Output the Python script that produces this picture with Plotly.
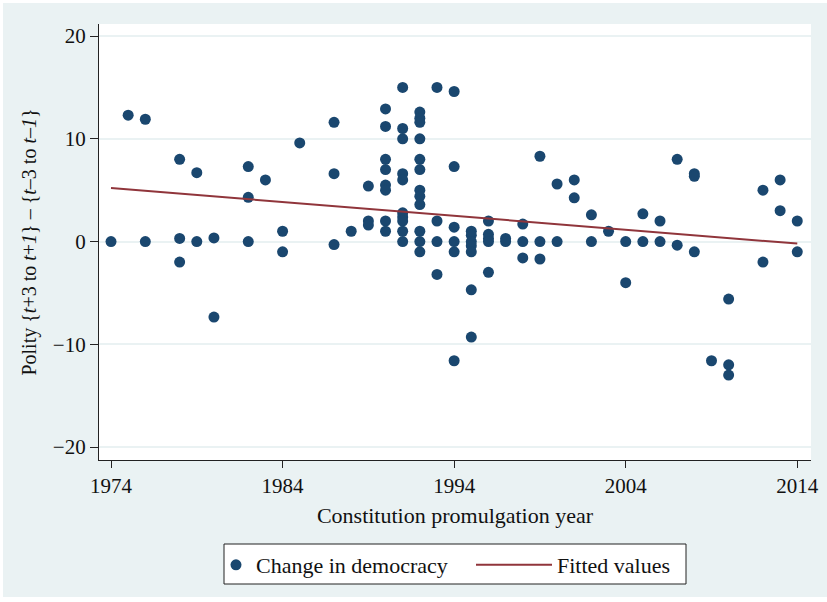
import plotly.graph_objects as go

# ---- data ----
year_groups = [1974, 1975, 1976, 1978, 1979, 1980, 1982, 1983, 1984, 1985,
               1987, 1988, 1989, 1990, 1991, 1992, 1993, 1994, 1995, 1996,
               1997, 1998, 1999, 2000, 2001, 2002, 2003, 2004, 2005, 2006,
               2007, 2008, 2009, 2010, 2012, 2013, 2014]
change_groups = [
    [0], [12.3], [11.9, 0], [8, 0.3, -2], [6.7, 0], [0.35, -7.35],
    [7.3, 4.3, 0], [6], [1, -1], [9.6],
    [11.6, 6.6, -0.3], [1], [5.4, 2, 1.6],
    [12.9, 11.2, 8, 7, 5.5, 5, 2, 1],
    [15, 11, 10, 6.6, 6, 2.8, 2.4, 2, 1, 0],
    [12.6, 12.0, 11.6, 10, 8, 7, 5, 4.4, 3.6, 1, 0, -1],
    [15, 2, 0, -3.2],
    [14.6, 7.3, 1.4, 0, -1, -11.6],
    [1, 0.6, 0, -0.4, -1, -4.7, -9.3],
    [2, 0.7, 0.3, 0, -3],
    [0.3, 0], [1.7, 0, -1.6], [8.3, 0, -1.7], [5.6, 0], [6, 4.25],
    [2.6, 0], [1], [0, -4], [2.7, 0], [2, 0],
    [8, -0.35], [6.6, 6.35, -1], [-11.6], [-5.6, -12, -13],
    [5, -2], [6, 3], [2, -1],
]
fit_years = [1974, 2014]
fit_values = [5.2, -0.2]

x_ticks = [1974, 1984, 1994, 2004, 2014]
y_ticks = [-20, -10, 0, 10, 20]

years = [y for y, vals in zip(year_groups, change_groups) for _ in vals]
changes = [v for vals in change_groups for v in vals]

# ---- style ----
FONT = "Liberation Serif"
NAVY = "#1A476F"
MAROON = "#90353B"
BG = "#EAF2F3"
INK = "#111111"
W, H = 827, 602
ML, MR, MT, MB = 99, 16, 24, 142
PW, PH = W - ML - MR, H - MT - MB


def px_x(p):
    return (p - ML) / PW


def px_y(p):
    return (H - MB - p) / PH


fig = go.Figure()
fig.add_trace(go.Scatter(
    x=years, y=changes, mode="markers", name="Change in democracy",
    marker=dict(color=NAVY, size=11, line=dict(width=0)), legend="legend",
))
fig.add_trace(go.Scatter(
    x=fit_years, y=fit_values, mode="lines", name="Fitted values",
    line=dict(color=MAROON, width=2), legend="legend2",
))

shapes = [
    # light blue graph region with thin white outer border
    dict(type="rect", xref="paper", yref="paper", layer="below",
         x0=px_x(3), x1=px_x(W + 5), y0=px_y(597), y1=px_y(3),
         fillcolor=BG, line=dict(width=0)),
    # white plot region
    dict(type="rect", xref="paper", yref="paper", layer="below",
         x0=0, x1=1, y0=0, y1=1, fillcolor="white", line=dict(width=0)),
    # legend frame
    dict(type="rect", xref="paper", yref="paper", layer="below",
         x0=px_x(224), x1=px_x(686), y0=px_y(584), y1=px_y(544),
         fillcolor="white", line=dict(color="#222222", width=1)),
]

LEG_Y = px_y(565)
legend_common = dict(
    orientation="h", yanchor="middle", y=LEG_Y, xanchor="left",
    bgcolor="rgba(0,0,0,0)", borderwidth=0,
    font=dict(family=FONT, size=22, color=INK),
)

fig.update_layout(
    width=W, height=H,
    margin=dict(l=ML, r=MR, t=MT, b=MB, pad=0, autoexpand=False),
    paper_bgcolor="white", plot_bgcolor="white",
    font=dict(family=FONT, size=20, color=INK),
    shapes=shapes,
    showlegend=True,
    legend=dict(legend_common, x=px_x(216), itemwidth=30),
    legend2=dict(legend_common, x=px_x(471), itemwidth=76),
    xaxis=dict(
        range=[1973.3, 2014.8], tickvals=x_ticks, showgrid=False,
        zeroline=False, showline=True, linecolor="#222222", linewidth=1.3,
        ticks="outside", ticklen=7, tickcolor="#222222", tickwidth=1.3,
        tickfont=dict(family=FONT, size=21), automargin=False,
        title=dict(text="Constitution promulgation year", standoff=10,
                   font=dict(family=FONT, size=22)),
    ),
    yaxis=dict(
        range=[-21.26, 21.17], tickvals=y_ticks, showgrid=True,
        gridcolor=BG, gridwidth=1.5, zeroline=False,
        showline=True, linecolor="#222222", linewidth=1.3,
        ticks="outside", ticklen=8, tickcolor="#222222", tickwidth=1.3,
        tickfont=dict(family=FONT, size=21), automargin=False,
        title=dict(text="Polity {<i>t</i>+3 to <i>t</i>+<i>1</i>} – {<i>t</i>–3 to <i>t</i>–<i>1</i>}",
                   standoff=10, font=dict(family=FONT, size=20)),
    ),
)

fig.write_html("out.html", config={"displayModeBar": False},
               post_script="document.body.style.margin='0';")
